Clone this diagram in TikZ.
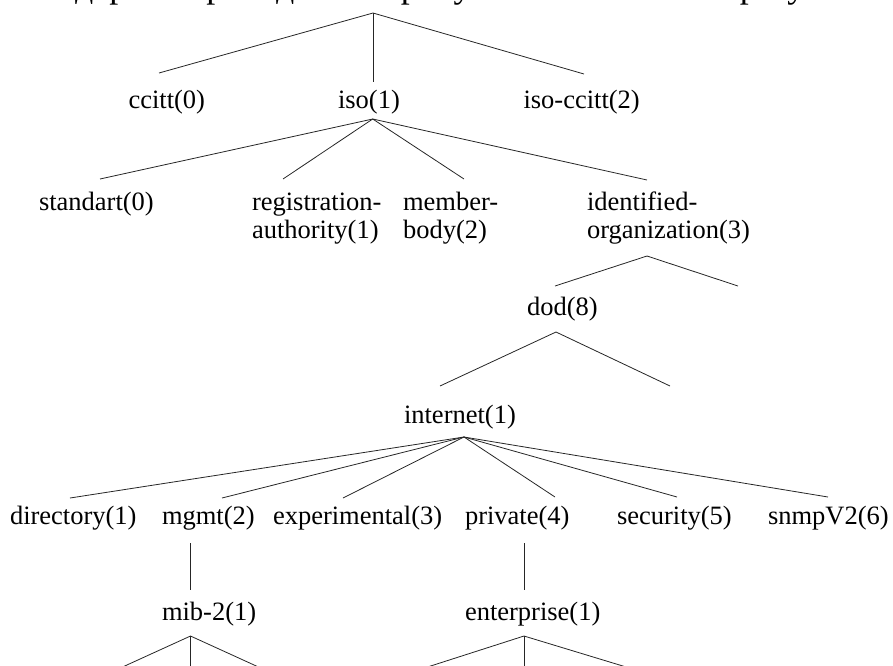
\documentclass[tikz,border=0pt]{standalone}
\usepackage{fontspec}
\setmainfont{Liberation Serif}
\begin{document}
\begin{tikzpicture}[x=1pt,y=-1pt,
  lbl/.style={anchor=base west,inner sep=0pt,outer sep=0pt,
              font=\fontsize{26.5}{28}\selectfont},
  twoline/.style={lbl},
  branch/.style={draw=black!85,line width=0.8pt},
]
\useasboundingbox (0,0) rectangle (893,665);
\clip (0,0) rectangle (893,665);

% running text of the page above the figure (only its lower part is inside)
\node[anchor=base west,inner sep=0pt,font=\fontsize{36}{40}\selectfont]
  (para) at (9,-3) {Это дерево приведено на рисунке 7.2. Из него сразу};

% ---------- labels ----------
\node[lbl] (ccitt)    at (128.5,108) {ccitt(0)};
\node[lbl] (iso)      at (338,108)   {iso(1)};
\node[lbl] (isoccitt) at (523.5,108) {iso-ccitt(2)};

\node[lbl] (standart) at (39,210) {standart(0)};
\node[twoline] (regauth) at (252,238)
  {\begin{tabular}[b]{@{}l@{}}registration-\\authority(1)\end{tabular}};
\node[twoline] (member) at (403,238)
  {\begin{tabular}[b]{@{}l@{}}member-\\body(2)\end{tabular}};
\node[twoline] (idorg) at (587,238)
  {\begin{tabular}[b]{@{}l@{}}identified-\\organization(3)\end{tabular}};

\node[lbl] (dod)      at (527,315) {dod(8)};
\node[lbl] (internet) at (404,423) {internet(1)};

\node[lbl] (directory)    at (10,524)  {directory(1)};
\node[lbl] (mgmt)         at (162,524) {mgmt(2)};
\node[lbl] (experimental) at (273,524) {experimental(3)};
\node[lbl] (private)      at (465,524) {private(4)};
\node[lbl] (security)     at (617,524) {security(5)};
\node[lbl] (snmp)         at (768,524) {snmpV2(6)};

\node[lbl] (mib)        at (162,620) {mib-2(1)};
\node[lbl] (enterprise) at (465,620) {enterprise(1)};

% ---------- branch points ----------
\coordinate (rootA) at (373,13);
\coordinate (ccittE) at (159,73);
\coordinate (isoE) at (373,82);
\coordinate (isoccittE) at (584,74);

\coordinate (isoA) at (372.7,119);
\coordinate (standartE) at (100,179);
\coordinate (regauthE) at (283,179);
\coordinate (memberE) at (464,179);
\coordinate (idorgE) at (647,180);

\coordinate (idorgA) at (647,256);
\coordinate (dodE) at (555,286);
\coordinate (idorgR) at (738,286);

\coordinate (dodA) at (556,332);
\coordinate (internetE) at (440,386);
\coordinate (dodR) at (670,386);

\coordinate (internetA) at (464,437);
\coordinate (directoryE) at (70,498);
\coordinate (mgmtE) at (222,498);
\coordinate (experimentalE) at (343,498);
\coordinate (privateE) at (555,497);
\coordinate (securityE) at (677,497);
\coordinate (snmpE) at (828,497);

\coordinate (mgmtA) at (190.7,543);
\coordinate (mibE) at (190.7,590);
\coordinate (privateA) at (524,543);
\coordinate (enterpriseE) at (524,590);

\coordinate (mibA) at (190.5,636);
\coordinate (mibL) at (94,680);
\coordinate (mibM) at (190.5,680);
\coordinate (mibR) at (287,680);

\coordinate (enterpriseA) at (524,636);
\coordinate (enterpriseL) at (387,680);
\coordinate (enterpriseM) at (524,680);
\coordinate (enterpriseR) at (669,680);

% ---------- branches ----------
\draw[branch] (ccittE) -- (rootA) -- (isoccittE);
\draw[branch] (rootA) -- (isoE);

\draw[branch] (standartE) -- (isoA) -- (idorgE);
\draw[branch] (regauthE) -- (isoA) -- (memberE);

\draw[branch] (dodE) -- (idorgA) -- (idorgR);
\draw[branch] (internetE) -- (dodA) -- (dodR);

\draw[branch] (directoryE) -- (internetA) -- (snmpE);
\draw[branch] (mgmtE) -- (internetA) -- (securityE);
\draw[branch] (experimentalE) -- (internetA) -- (privateE);

\draw[branch] (mgmtA) -- (mibE);
\draw[branch] (privateA) -- (enterpriseE);

\draw[branch] (mibL) -- (mibA) -- (mibR);
\draw[branch] (mibA) -- (mibM);
\draw[branch] (enterpriseL) -- (enterpriseA) -- (enterpriseR);
\draw[branch] (enterpriseA) -- (enterpriseM);
\end{tikzpicture}
\end{document}
